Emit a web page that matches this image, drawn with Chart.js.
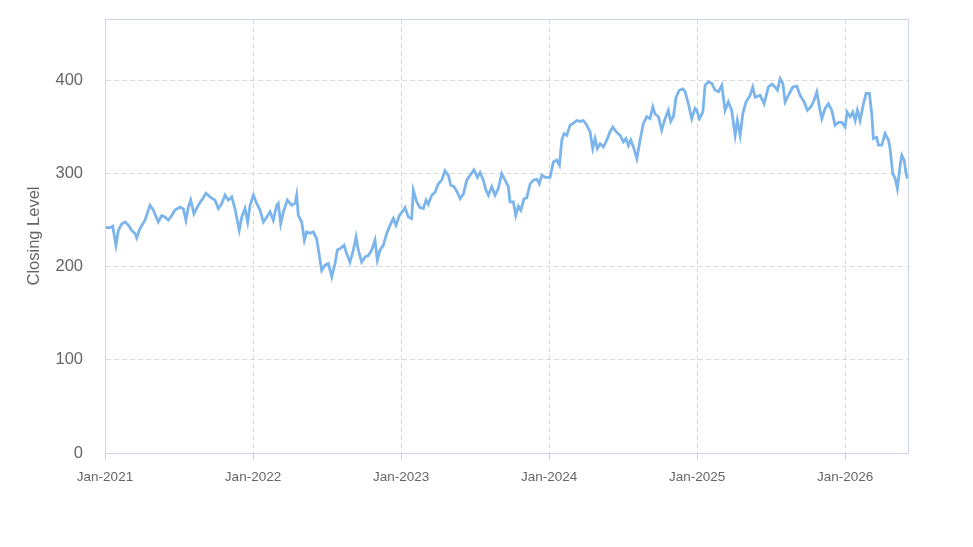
<!DOCTYPE html>
<html>
<head>
<meta charset="utf-8">
<script src="https://cdn.jsdelivr.net/npm/chart.js@4.4.1/dist/chart.umd.min.js"></script>
<style>
  html, body { margin: 0; padding: 0; background: #ffffff; }
  #wrap { width: 973px; height: 547px; }
</style>
</head>
<body>
<div id="wrap"><canvas id="closeChart" width="973" height="547"></canvas></div>
<script>
// time in years since Jan-2021, closing level
const yearsSince2021 = [
  0, 0.034, 0.052, 0.074, 0.090, 0.113, 0.135, 0.157, 0.180, 0.203, 0.214, 0.236, 0.270, 0.304, 0.326,
  0.360, 0.383, 0.405, 0.428, 0.451, 0.473, 0.507, 0.529, 0.547, 0.563, 0.579, 0.601, 0.630, 0.653, 0.682,
  0.709, 0.743, 0.766, 0.789, 0.811, 0.833, 0.856, 0.878, 0.907, 0.924, 0.946, 0.964, 0.980,
  1.002, 1.025, 1.047, 1.070, 1.093, 1.115, 1.137, 1.160, 1.171, 1.187, 1.205, 1.232, 1.261, 1.284, 1.295,
  1.306, 1.329, 1.347, 1.363, 1.385, 1.407, 1.430, 1.453, 1.464, 1.486, 1.509, 1.532, 1.554, 1.570, 1.593,
  1.615, 1.633, 1.655, 1.678, 1.696, 1.711, 1.734, 1.757, 1.779, 1.802, 1.824, 1.840, 1.858, 1.880, 1.903,
  1.926, 1.948, 1.966, 1.989,
  2.016, 2.027, 2.049, 2.072, 2.083, 2.106, 2.128, 2.151, 2.169, 2.184, 2.207, 2.230, 2.252, 2.275, 2.297,
  2.320, 2.336, 2.358, 2.380, 2.399, 2.421, 2.444, 2.466, 2.493, 2.516, 2.534, 2.556, 2.574, 2.590, 2.613,
  2.635, 2.657, 2.680, 2.703, 2.725, 2.736, 2.759, 2.775, 2.793, 2.809, 2.831, 2.849, 2.872, 2.894, 2.917,
  2.934, 2.951, 2.973,
  3.007, 3.029, 3.052, 3.070, 3.086, 3.101, 3.120, 3.142, 3.164, 3.187, 3.209, 3.232, 3.255, 3.277, 3.295,
  3.311, 3.326, 3.345, 3.367, 3.390, 3.412, 3.430, 3.453, 3.480, 3.502, 3.520, 3.536, 3.552, 3.570, 3.593,
  3.615, 3.637, 3.660, 3.682, 3.701, 3.716, 3.739, 3.761, 3.784, 3.806, 3.822, 3.840, 3.858, 3.880, 3.903,
  3.919, 3.941, 3.964, 3.986, 3.998,
  4.016, 4.039, 4.054, 4.076, 4.099, 4.122, 4.145, 4.167, 4.189, 4.211, 4.234, 4.257, 4.272, 4.291, 4.309,
  4.331, 4.358, 4.376, 4.392, 4.426, 4.453, 4.482, 4.505, 4.527, 4.543, 4.561, 4.579, 4.595, 4.617, 4.647,
  4.674, 4.696, 4.723, 4.745, 4.768, 4.786, 4.809, 4.826, 4.843, 4.865, 4.887, 4.910, 4.932, 4.955, 4.978,
  5.000, 5.014, 5.034, 5.052, 5.068, 5.083, 5.101, 5.124, 5.142, 5.164, 5.180, 5.191, 5.214, 5.225, 5.248,
  5.270, 5.293, 5.304, 5.322, 5.338, 5.353, 5.372, 5.383, 5.399, 5.412, 5.421
];

const closingLevel = [
  242, 242, 243.5, 223, 239, 246, 248, 245, 239, 235.7, 231, 241, 250, 266, 261,
  248, 255, 253.5, 250, 255, 261, 264, 262, 250, 264, 271.5, 257, 266, 271.5, 279,
  275, 271.5, 262.5, 268, 277, 271.5, 275, 262.5, 239, 253.5, 262.5, 248, 266,
  277, 268, 261, 248, 253.5, 259, 250, 266, 268, 246, 259, 271.5, 266, 268, 277,
  255, 248, 228.5, 237.5, 236, 237.5, 230, 207, 196, 201.7, 203.5, 189, 203.5, 218, 220,
  223, 214, 205, 218, 232, 218, 205, 210.6, 212, 218, 228.5, 207, 218, 223, 235.7,
  244.6, 251.8, 244.6, 255,
  260.7, 263.6, 253.5, 251.8, 282, 269.6, 263.6, 262.5, 271.5, 267, 276.8, 280, 289, 293, 303,
  298, 287.5, 286, 280, 273, 278, 293, 298, 304, 296, 301, 293, 282, 276.8, 286,
  276.8, 284, 300, 293, 286, 269.6, 269.6, 255, 265, 260.7, 273, 274, 289, 293, 294,
  289, 298, 296,
  296, 312.5, 314.4, 309, 336, 343, 341, 352, 354, 357, 356, 357, 352, 345, 327,
  337.6, 327, 332, 328.6, 336, 345, 350, 345, 341, 334, 337.6, 330, 336, 328.6, 316,
  336, 353.7, 361, 359, 371.6, 364, 361, 346.6, 359, 368, 356, 361, 382, 389.5, 391,
  388, 375, 359, 370, 368,
  359, 366, 394.8, 398.4, 397, 389.5, 388, 394.8, 368, 377, 368, 341, 357, 341, 364.5,
  377, 384, 393, 382, 384, 375, 393, 396, 393, 389.5, 402, 397, 377, 384, 393,
  394, 384, 377, 368, 371.6, 377, 387.6, 371.6, 359, 370, 375, 368, 352, 355, 355,
  350, 366, 361, 366, 357, 368, 357, 375, 386, 386, 364.5, 337.6, 339, 330.5, 330.5,
  343, 336, 327, 300, 295, 284, 309, 319.7, 314.4, 300, 294.7
];

const tickLabels = ['Jan-2021', 'Jan-2022', 'Jan-2023', 'Jan-2024', 'Jan-2025', 'Jan-2026'];
const yTicks = [0, 100, 200, 300, 400];

const points = yearsSince2021.map(function (t, i) {
    return { x: t, y: closingLevel[i] };
});

const frameColor = '#ccd6eb';
const gridColor = '#d9d9d9';
const textColor = '#666666';
const fontFamily = "'Liberation Sans', Arial, sans-serif";

// thin frame round the plot area
const plotFrame = {
    id: 'plotFrame',
    afterDraw: function (chart) {
        const a = chart.chartArea;
        const c = chart.ctx;
        c.save();
        c.strokeStyle = frameColor;
        c.lineWidth = 1;
        c.setLineDash([]);
        c.strokeRect(Math.round(a.left) + 0.5, Math.round(a.top) + 0.5,
            Math.round(a.right - a.left), Math.round(a.bottom - a.top));
        c.restore();
    }
};

const ctx = document.getElementById('closeChart').getContext('2d');
new Chart(ctx, {
    type: 'line',
    data: {
        datasets: [{
            label: 'Closing Level',
            data: points,
            borderColor: '#7cb5ec',
            borderWidth: 2.8,
            pointRadius: 0,
            tension: 0,
            fill: false,
        }],
    },
    options: {
        responsive: false,
        animation: false,
        layout: { padding: { top: 19, right: 65, bottom: 0, left: 0 } },
        plugins: {
            legend: { display: false },
            tooltip: { enabled: false },
        },
        scales: {
            x: {
                type: 'linear',
                min: 0,
                max: 5.425,
                afterBuildTicks: function (scale) {
                    scale.ticks = tickLabels.map(function (l, i) { return { value: i }; });
                },
                afterFit: function (scale) { scale.height = 94; },
                ticks: {
                    color: textColor,
                    font: { family: fontFamily, size: 13.5 },
                    padding: 9,
                    maxRotation: 0,
                    autoSkip: false,
                    callback: function (v) { return tickLabels[v]; },
                },
                grid: {
                    color: gridColor,
                    tickColor: frameColor,
                    tickBorderDash: [],
                    tickLength: 7,
                },
                border: { color: frameColor, width: 1, dash: [5, 3] },
            },
            y: {
                min: 0,
                max: 466,
                afterBuildTicks: function (scale) {
                    scale.ticks = yTicks.map(function (v) { return { value: v }; });
                },
                afterFit: function (scale) {
                    scale.width = 105;
                    scale.paddingTop = 0;
                    scale.paddingBottom = 0;
                },
                ticks: {
                    color: textColor,
                    font: { family: fontFamily, size: 16.5 },
                    padding: 22,
                },
                grid: {
                    color: gridColor,
                    drawTicks: false,
                },
                border: { color: frameColor, width: 1, dash: [5, 3] },
                title: {
                    display: true,
                    text: 'Closing Level',
                    color: textColor,
                    font: { family: fontFamily, size: 16.5 },
                    padding: { top: 25, bottom: 0 },
                },
            },
        },
    },
    plugins: [plotFrame],
});
</script>
</body>
</html>
